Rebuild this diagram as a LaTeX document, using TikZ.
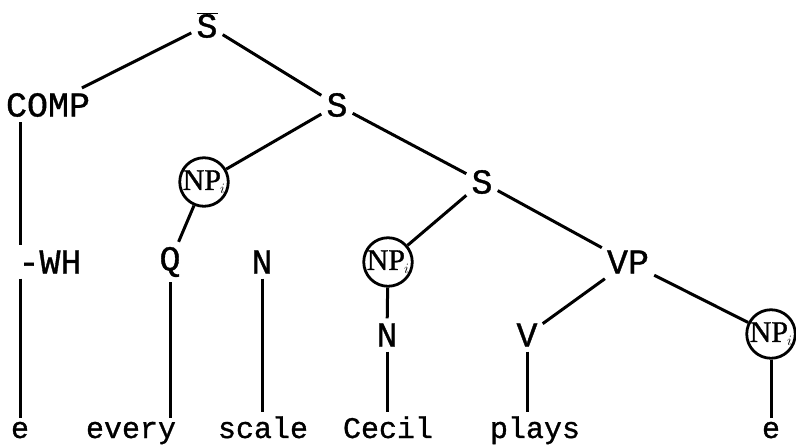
\documentclass[tikz,border=0pt]{standalone}
\usepackage{fontspec}
\setmainfont[FakeBold=1]{Liberation Mono}
\newfontfamily\npfont[FakeBold=1]{Liberation Serif}
\begin{document}
\begin{tikzpicture}[x=1pt,y=-1pt,
  lbl/.style={font=\fontsize{35}{35}\selectfont, inner sep=5pt},
  word/.style={font=\fontsize{30}{30}\selectfont, inner sep=4pt, anchor=base},
  np/.style={circle, draw, line width=2.8pt, minimum size=46pt, inner sep=0pt, font=\npfont\fontsize{30}{30}\selectfont},
  edge/.style={line width=3pt}]
\useasboundingbox (0,0) rectangle (796,447);
% level 0
\node[lbl] (Sbar) at (207,25) {$\overline{\hbox{S}}$};
% level 1
\node[lbl] (COMP) at (48,105) {COMP};
\node[lbl] (S1) at (337,105) {S};
% level 2
\node[np] (NP1) at (204,182) {NP\kern-1pt$_{\scriptscriptstyle i}$};
\node[lbl] (S2) at (482,182) {S};
% level 3
\node[lbl] (WH) at (50,262) {-WH};
\node[lbl] (Q) at (170,262) {Q};
\node[lbl] (N1) at (262,262) {N};
\node[np] (NP2) at (388,262) {NP\kern-1pt$_{\scriptscriptstyle i}$};
\node[lbl] (VP) at (628,262) {VP};
% level 4
\node[lbl] (N2) at (387,335) {N};
\node[lbl] (V) at (527,335) {V};
\node[np] (NP3) at (771,334) {NP\kern-1pt$_{\scriptscriptstyle i}$};
% words
\node[word] (e1) at (20,438) {e};
\node[word] (every) at (131,438) {every};
\node[word] (scale) at (263,438) {scale};
\node[word] (Cecil) at (388,438) {Cecil};
\node[word] (plays) at (535,438) {plays};
\node[word] (e2) at (771,438) {e};
% edges
\draw[edge] (Sbar) -- (COMP);
\draw[edge] (Sbar) -- (S1);
\draw[edge] (COMP.south -| e1) -- (WH.north -| e1);
\draw[edge] (WH.south -| e1) -- (e1.north);
\draw[edge] (S1) -- (NP1);
\draw[edge] (S1) -- (S2);
\draw[edge] (NP1) -- (Q);
\draw[edge] (Q.south) -- (Q.south |- every.north);
\draw[edge] (N1.south) -- (N1.south |- scale.north);
\draw[edge] (S2) -- (NP2);
\draw[edge] (S2) -- (VP);
\draw[edge] (NP2) -- (N2);
\draw[edge] (N2.south) -- (N2.south |- Cecil.north);
\draw[edge] (VP) -- (V);
\draw[edge] (VP) -- (NP3);
\draw[edge] (V.south) -- (V.south |- plays.north);
\draw[edge] (NP3.south) -- (NP3.south |- e2.north);
\end{tikzpicture}
\end{document}
